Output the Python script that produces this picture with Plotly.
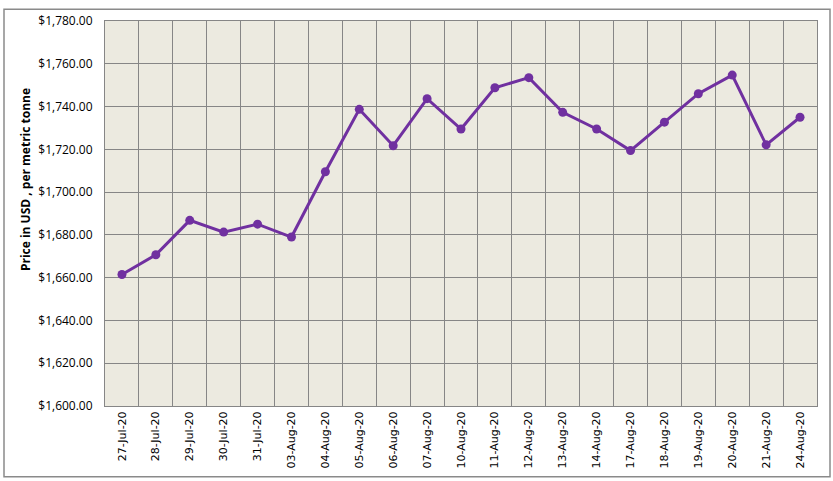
import plotly.graph_objects as go

dates = ["27-Jul-20", "28-Jul-20", "29-Jul-20", "30-Jul-20", "31-Jul-20",
         "03-Aug-20", "04-Aug-20", "05-Aug-20", "06-Aug-20", "07-Aug-20",
         "10-Aug-20", "11-Aug-20", "12-Aug-20", "13-Aug-20", "14-Aug-20",
         "17-Aug-20", "18-Aug-20", "19-Aug-20", "20-Aug-20", "21-Aug-20",
         "24-Aug-20"]
prices = [1661.5, 1670.7, 1686.8, 1681.3, 1685.0,
          1679.0, 1709.5, 1738.7, 1721.7, 1743.7,
          1729.5, 1748.8, 1753.5, 1737.3, 1729.5,
          1719.4, 1732.7, 1746.0, 1754.7, 1722.1,
          1735.0]
y_title = "Price in USD , per metric tonne"

fig = go.Figure()
fig.add_trace(go.Scatter(
    x=dates, y=prices, mode="lines+markers",
    line=dict(color="#7030A0", width=3),
    marker=dict(color="#7030A0", size=9),
    showlegend=False,
))

grid = "#868686"
fig.update_layout(
    width=833, height=481,
    margin=dict(l=105, r=16, t=15, b=74),
    paper_bgcolor="white",
    plot_bgcolor="#ECEAE0",
    font=dict(family="DejaVu Sans", color="black"),
    xaxis=dict(
        type="category", tickson="boundaries", showgrid=True,
        gridcolor=grid, gridwidth=1, tickangle=-90,
        tickfont=dict(family="DejaVu Sans", size=11),
        showline=True, linecolor=grid, mirror=True,
        ticks="", range=[-0.5, 20.5],
    ),
    yaxis=dict(
        range=[1600, 1780], dtick=20, tickprefix="$", tickformat=",.2f",
        showgrid=True, gridcolor=grid, gridwidth=1,
        tickfont=dict(family="Open Sans", size=12),
        showline=True, linecolor=grid, mirror=True,
        zeroline=False, ticks="", ticklabelstandoff=9,
    ),
    annotations=[dict(
        text="<b>" + y_title + "</b>", xref="paper", yref="paper",
        x=-80 / 712, y=1 - 162 / 392, xanchor="center", yanchor="middle",
        textangle=-90, showarrow=False,
        font=dict(family="Open Sans", size=12, color="black"),
    )],
    shapes=[dict(type="rect", xref="paper", yref="paper",
                 x0=-101/712, x1=1 + 13/712, y0=-72/392, y1=1 + 12/392,
                 line=dict(color="#8A8A8A", width=1.5), layer="below")],
)

fig.write_html("out.html")
